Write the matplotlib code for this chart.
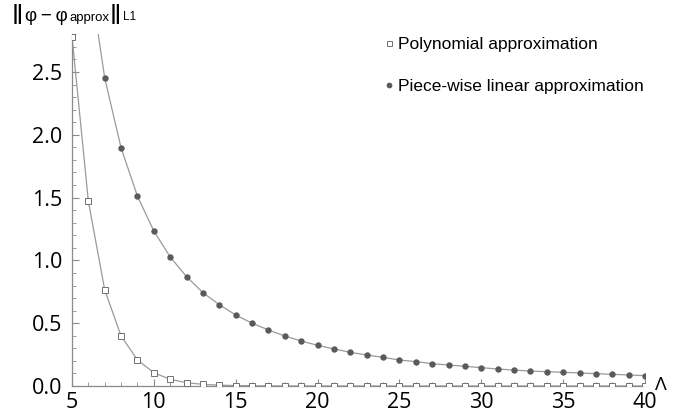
import matplotlib
matplotlib.use('Agg')
from matplotlib import pyplot as plt
from matplotlib.ticker import MultipleLocator, FormatStrFormatter

# values
lam = list(range(5, 41))
polyErr = [2.78, 1.47, 0.764, 0.398, 0.207, 0.106, 0.053, 0.026, 0.013, 0.0066,
           0.0033, 0.0017, 0.0008, 0.0004, 0.0002, 0.0001, 0.0, 0.0, 0.0, 0.0,
           0.0, 0.0, 0.0, 0.0, 0.0, 0.0, 0.0, 0.0, 0.0, 0.0,
           0.0, 0.0, 0.0, 0.0, 0.0, 0.0]
lamPw = list(range(6, 41))
pwErr = [3.33, 2.45, 1.895, 1.51, 1.234, 1.027, 0.870, 0.743, 0.647, 0.565,
         0.500, 0.446, 0.398, 0.358, 0.324, 0.295, 0.268, 0.247, 0.228, 0.207,
         0.194, 0.178, 0.167, 0.157, 0.146, 0.135, 0.127, 0.119, 0.114, 0.109,
         0.104, 0.098, 0.093, 0.088, 0.082]

W, H = 684, 415
fig = plt.figure(figsize=(W/100, H/100), dpi=100)
ax = fig.add_axes([72/W, 1-386/H, (645-72)/W, (386-34.3)/H])

lineCol = '#9a9a9a'
ax.plot(lam, polyErr, color=lineCol, lw=0.9, zorder=2)
ax.plot(lamPw, pwErr, color=lineCol, lw=0.9, zorder=2)
ax.plot(lam, polyErr, ls='none', marker='s', ms=4.0, mfc='white', mec='#707070',
        mew=0.7, zorder=3, label='Polynomial approximation')
ax.plot(lamPw, pwErr, ls='none', marker='o', ms=4.6, mfc='#5a5a5a', mew=0,
        zorder=3, label='Piece-wise linear approximation')

ax.set_xlim(5, 40)
ax.set_ylim(0, 2.8)
ax.xaxis.set_major_locator(MultipleLocator(5))
ax.xaxis.set_minor_locator(MultipleLocator(1))
ax.yaxis.set_major_locator(MultipleLocator(0.5))
ax.yaxis.set_minor_locator(MultipleLocator(0.1))
ax.yaxis.set_major_formatter(FormatStrFormatter('%.1f'))

for s in ['top', 'right']:
    ax.spines[s].set_visible(False)
for s in ['left', 'bottom']:
    ax.spines[s].set_color('#8a8a8a')
    ax.spines[s].set_linewidth(0.9)
ax.tick_params(which='both', direction='in', color='#8a8a8a', labelsize=15.5)
ax.tick_params(which='major', length=5, width=0.8)
ax.tick_params(which='minor', length=3, width=0.6)
for lbl in ax.get_xticklabels() + ax.get_yticklabels():
    lbl.set_family('Open Sans')
ax.tick_params(axis='x', pad=4)
ax.tick_params(axis='y', pad=7)

# y-axis label ||phi - phi_approx||_L1, pieces placed one after another
renderer = fig.canvas.get_renderer()
pieces = [('‖', 20, 24, 2), ('φ\u2009−\u2009φ', 13.5, 21, 1), ('approx', 9.5, 21, 1),
          ('‖', 20, 24, 2), ('L1', 8.5, 20, 0)]
xpos = 12
for txt, size, baseY, gap in pieces:
    t = fig.text(xpos/W, 1-baseY/H, txt, fontsize=size, ha='left',
                 va='baseline', family=['Liberation Sans', 'DejaVu Sans'])
    xpos = t.get_window_extent(renderer).x1 + gap

fig.text(661/W, 1-385/H, 'Λ', fontsize=14, va='center', ha='center',
         family='Open Sans')

ax.legend(loc='upper left', bbox_to_anchor=(375/W, 1-28/H),
          bbox_transform=fig.transFigure, frameon=False, handlelength=0.6,
          handletextpad=0.25, labelspacing=1.55, borderpad=0,
          markerscale=0.9,
          prop={'family': 'Liberation Sans', 'size': 12.5})

fig.savefig('out.png', dpi=100)
